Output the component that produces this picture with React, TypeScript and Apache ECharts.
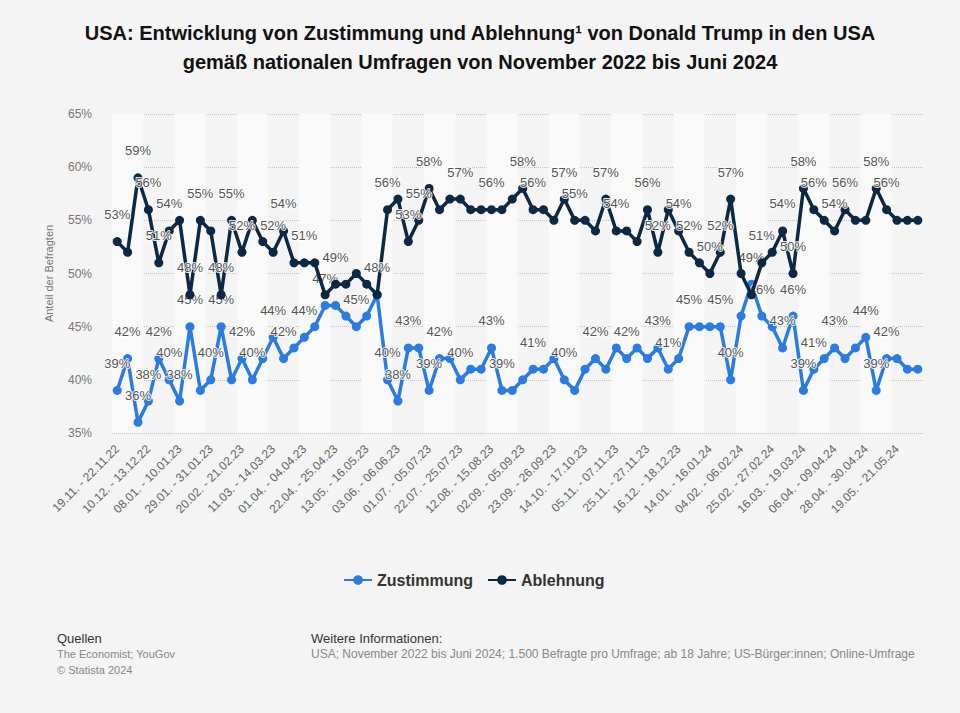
import React, { useEffect, useRef } from "react";
import * as echarts from "echarts";

const tickLabels = [
  "19.11. - 22.11.22", "10.12. - 13.12.22", "08.01. - 10.01.23", "29.01. - 31.01.23",
  "20.02. - 21.02.23", "11.03. - 14.03.23", "01.04. - 04.04.23", "22.04. - 25.04.23",
  "13.05. - 16.05.23", "03.06. - 06.06.23", "01.07. - 05.07.23", "22.07. - 25.07.23",
  "12.08. - 15.08.23", "02.09. - 05.09.23", "23.09. - 26.09.23", "14.10. - 17.10.23",
  "05.11. - 07.11.23", "25.11. - 27.11.23", "16.12. - 18.12.23", "14.01. - 16.01.24",
  "04.02. - 06.02.24", "25.02. - 27.02.24", "16.03. - 19.03.24", "06.04. - 09.04.24",
  "28.04. - 30.04.24", "19.05. - 21.05.24",
];

const zustimmung = [
  39, 42, 36, 38, 42, 40, 38, 45, 39, 40,
  45, 40, 42, 40, 42, 44, 42, 43, 44, 45,
  47, 47, 46, 45, 46, 48, 40, 38, 43, 43,
  39, 42, 42, 40, 41, 41, 43, 39, 39, 40,
  41, 41, 42, 40, 39, 41, 42, 41, 43, 42,
  43, 42, 43, 41, 42, 45, 45, 45, 45, 40,
  46, 49, 46, 45, 43, 46, 39, 41, 42, 43,
  42, 43, 44, 39, 42, 42, 41, 41,
];

const ablehnung = [
  53, 52, 59, 56, 51, 54, 55, 48, 55, 54,
  48, 55, 52, 55, 53, 52, 54, 51, 51, 51,
  48, 49, 49, 50, 49, 48, 56, 57, 53, 55,
  58, 56, 57, 57, 56, 56, 56, 56, 57, 58,
  56, 56, 55, 57, 55, 55, 54, 57, 54, 54,
  53, 56, 52, 56, 54, 52, 51, 50, 52, 57,
  50, 48, 51, 52, 54, 50, 58, 56, 55, 54,
  56, 55, 55, 58, 56, 55, 55, 55,
];

// indices of points whose value label is visible in the reference
const zustimmungLabeled = [
  0, 1, 2, 3, 4, 5, 6, 7, 9, 10, 12, 13, 15, 16, 18, 20, 23, 26, 27, 28, 30, 31, 33,
  36, 37, 40, 43, 46, 49, 52, 53, 55, 58, 59, 61, 62, 64, 65, 66, 67, 69, 72, 73, 74,
];
const ablehnungLabeled = [
  0, 2, 3, 4, 5, 7, 8, 10, 11, 12, 15, 16, 18, 21, 25, 26, 28, 29, 30, 33, 36, 39, 40,
  43, 44, 47, 48, 51, 52, 54, 55, 57, 58, 59, 62, 64, 65, 66, 67, 69, 70, 73, 74,
];

const categories = zustimmung.map((_, i) => (i % 3 === 0 ? tickLabels[i / 3] : ""));

const BLUE = "#2b7be0";
const NAVY = "#0d2843";
const FONT = "'Liberation Sans', Arial, Helvetica, sans-serif";

export default function App() {
  const ref = useRef<HTMLDivElement>(null);
  useEffect(() => {
    document.body.style.margin = "0";
    const chart = echarts.init(ref.current!, null, { renderer: "svg" });
    const labelStyle = {
      show: false,
      position: "top",
      distance: 16,
      formatter: "{c}%",
      color: "#555",
      fontSize: 13,
      fontFamily: FONT,
      textBorderColor: "rgba(255,255,255,0.85)",
      textBorderWidth: 2,
    };
    const mk = (vals: number[], labeled: number[]) =>
      vals.map((v, i) => ({ value: v, label: { show: labeled.includes(i) } }));
    chart.setOption({
      animation: false,
      backgroundColor: "#f4f4f4",
      textStyle: { fontFamily: FONT },
      title: {
        text: "USA: Entwicklung von Zustimmung und Ablehnung¹ von Donald Trump in den USA\ngemäß nationalen Umfragen von November 2022 bis Juni 2024",
        left: "center",
        top: 13,
        textStyle: {
          fontSize: 20,
          fontWeight: "bold",
          color: "#111",
          lineHeight: 29,
          fontFamily: FONT,
        },
      },
      legend: {
        bottom: 120,
        left: 338,
        itemWidth: 28,
        itemHeight: 12,
        itemGap: 14,
        textStyle: { fontSize: 16, fontWeight: "bold", color: "#333", fontFamily: FONT },
        data: ["Zustimmung", "Ablehnung"],
      },
      grid: { left: 112, right: 37, top: 114, bottom: 280 },
      xAxis: {
        type: "category",
        data: categories,
        boundaryGap: true,
        axisLine: { show: false },
        axisTick: { show: false, interval: 2 },
        axisLabel: {
          interval: 2,
          rotate: 45,
          margin: 14,
          fontSize: 12,
          color: "#666",
          fontFamily: FONT,
        },
        splitLine: { show: false },
        splitArea: {
          show: true,
          interval: 2,
          areaStyle: { color: ["#f9f9f9", "rgba(0,0,0,0)"] },
        },
      },
      yAxis: {
        type: "value",
        min: 35,
        max: 65,
        interval: 5,
        name: "Anteil der Befragten",
        nameLocation: "middle",
        nameGap: 58,
        nameTextStyle: { fontSize: 11, color: "#777", fontFamily: FONT },
        axisLine: { show: false },
        axisTick: { show: false },
        axisLabel: { formatter: "{value}%", fontSize: 12, color: "#777", margin: 20, fontFamily: FONT },
        splitLine: { lineStyle: { type: "dotted", color: "#c4c4c4", width: 1 } },
      },
      series: [
        {
          name: "Zustimmung",
          type: "line",
          data: mk(zustimmung, zustimmungLabeled),
          color: BLUE,
          lineStyle: { width: 3.5, color: BLUE },
          itemStyle: { color: BLUE },
          symbol: "circle",
          symbolSize: 9,
          showSymbol: true,
          showAllSymbol: true,
          label: labelStyle,
          labelLayout: { hideOverlap: false },
          z: 2,
        },
        {
          name: "Ablehnung",
          type: "line",
          data: mk(ablehnung, ablehnungLabeled),
          color: NAVY,
          lineStyle: { width: 3.5, color: NAVY },
          itemStyle: { color: NAVY },
          symbol: "circle",
          symbolSize: 9,
          showSymbol: true,
          showAllSymbol: true,
          label: labelStyle,
          labelLayout: { hideOverlap: false },
          z: 3,
        },
      ],
      graphic: [
        { type: "text", left: 57, top: 632, style: { text: "Quellen", fontSize: 13, fill: "#333", fontFamily: FONT } },
        { type: "text", left: 57, top: 648, style: { text: "The Economist; YouGov", fontSize: 11, fill: "#888", fontFamily: FONT } },
        { type: "text", left: 57, top: 664, style: { text: "© Statista 2024", fontSize: 11, fill: "#888", fontFamily: FONT } },
        { type: "text", left: 311, top: 632, style: { text: "Weitere Informationen:", fontSize: 13, fill: "#333", fontFamily: FONT } },
        {
          type: "text",
          left: 311,
          top: 648,
          style: {
            text: "USA; November 2022 bis Juni 2024; 1.500 Befragte pro Umfrage; ab 18 Jahre; US-Bürger:innen; Online-Umfrage",
            fontSize: 12,
            fill: "#888",
            fontFamily: FONT,
          },
        },
      ],
    });
    return () => chart.dispose();
  }, []);
  return (
    <div
      ref={ref}
      style={{ position: "fixed", left: 0, top: 0, width: 960, height: 713 }}
    />
  );
}
